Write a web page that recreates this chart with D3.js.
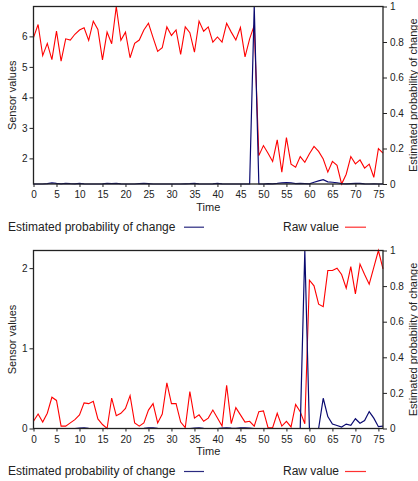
<!DOCTYPE html>
<html>
<head>
<meta charset="utf-8">
<script src="https://cdn.jsdelivr.net/npm/d3@7/dist/d3.min.js"></script>
<style>
  body { margin: 0; background: #fff; }
  svg text { font-family: "Liberation Sans", Arial, sans-serif; fill: #222; }
</style>
</head>
<body>
<div id="container"></div>
<script>
/* CONSTANTS AND GLOBALS */
const width = 418,
  height = 481,
  plotLeft = 33.5,
  plotRight = 383

const panels = [
  { top: 6.5, bottom: 184, timeY: 207, legendY: 226.7 },
  { top: 250.5, bottom: 428.5, timeY: 451, legendY: 471 }
]

/* DATA */
const timeTicks = [0, 5, 10, 15, 20, 25, 30, 35, 40, 45, 50, 55, 60, 65, 70, 75]
const timeMax = 76
const probTicks = [0, 0.2, 0.4, 0.6, 0.8, 1]
const rawTicksTop = [2, 3, 4, 5, 6]
const rawTicksBottom = [0, 1, 2]
const legendLabels = ["Estimated probability of change", "Raw value"]

// first run: change near t=48
const rawTop = [5.96, 6.39, 5.37, 5.77, 5.24, 6.17, 5.19, 5.92, 5.88, 6.07,
  6.21, 6.28, 5.87, 6.50, 6.23, 5.23, 6.14, 5.76, 6.98, 5.87,
  6.14, 5.30, 5.77, 5.88, 6.21, 6.43, 5.96, 5.51, 5.63, 6.31,
  6.03, 6.21, 5.41, 6.31, 6.12, 5.48, 6.50, 6.17, 6.31, 5.81,
  5.98, 5.81, 6.43, 6.14, 5.88, 6.29, 5.33, 5.92, 6.36, 2.09,
  2.42, 2.17, 1.90, 2.61, 1.55, 2.68, 1.81, 1.71, 2.06, 1.87,
  2.15, 2.39, 2.23, 1.98, 1.55, 1.90, 1.77, 1.16, 1.48, 2.06,
  1.82, 1.95, 1.68, 1.81, 1.38, 2.32, 2.17]
const probTop = [0, 0, 0, 0.002, 0.006, 0.003, 0.001, 0.004, 0.002, 0.001,
  0.003, 0.001, 0, 0, 0, 0.001, 0.003, 0.002, 0.003, 0.001,
  0, 0, 0, 0.002, 0.004, 0.002, 0, 0, 0, 0,
  0, 0, 0, 0.001, 0.002, 0.004, 0.001, 0, 0, 0.001,
  0.003, 0.001, 0, 0, 0, 0, 0, 0, 1, 0,
  0, 0.002, 0.001, 0.003, 0.006, 0.008, 0.006, 0.002, 0.003, 0.002,
  0.001, 0.01, 0.018, 0.024, 0.012, 0.01, 0.007, 0.002, 0.001, 0.002,
  0.003, 0.003, 0.001, 0, 0.001, 0, 0]

// second run: change near t=59
const rawBottom = [0.09, 0.18, 0.08, 0.19, 0.39, 0.35, 0.03, 0.03, 0.07, 0.11,
  0.17, 0.32, 0.31, 0.34, 0.12, 0.05, 0.0, 0.38, 0.16, 0.19,
  0.25, 0.41, 0.07, 0.03, 0.07, 0.23, 0.31, 0.07, 0.18, 0.57,
  0.31, 0.31, 0.08, 0.01, 0.46, 0.13, 0.17, 0.09, 0.13, 0.23,
  0.13, 0.03, 0.54, 0.06, 0.26, 0.17, 0.08, 0.09, 0.03, 0.21,
  0.22, 0.01, 0.01, 0.19, 0.03, 0.09, 0.02, 0.30, 0.21, 0.06,
  1.85, 1.78, 1.55, 1.52, 1.97, 1.97, 2.00, 1.92, 1.75, 2.02,
  1.68, 2.05, 1.92, 1.80, 2.01, 2.22, 1.99]
const probBottom = [0, 0, 0, 0, 0, 0, 0, 0, 0, 0,
  0.002, 0.004, 0.001, 0, 0, 0, 0, 0, 0, 0,
  0, 0, 0, 0, 0.001, 0.003, 0.004, 0.001, 0, 0,
  0, 0, 0, 0, 0, 0.002, 0.004, 0.001, 0, 0,
  0, 0.002, 0.004, 0.002, 0.001, 0.003, 0.004, 0.002, 0, 0,
  0, 0, 0, 0, 0, 0, 0, 0, 0, 1,
  0, 0, 0, 0.17, 0.067, 0.025, 0.017, 0.008, 0.025, 0.018,
  0.055, 0.03, 0.045, 0.095, 0.058, 0.01, 0.013]

// CREATE SVG ELEMENT
const svg = d3.select("#container")
  .append("svg")
  .attr("width", width)
  .attr("height", height)

// + SCALES (shared x)
const xScale = d3.scaleLinear()
  .domain([0, timeMax])
  .range([plotLeft, plotRight])

function drawPanel(box, raw, prob, rawTicks, rawDomain) {
  const yRaw = d3.scaleLinear()
    .domain(rawDomain)
    .range([box.bottom, box.top])

  const yProb = d3.scaleLinear()
    .domain([0, 1])
    .range([box.bottom, box.top])

  // AXES
  const xAxis = svg.append("g")
    .attr("transform", `translate(0,${box.bottom})`)
    .call(d3.axisBottom(xScale).tickValues(timeTicks).tickSize(3).tickPadding(4))

  const yAxis = svg.append("g")
    .attr("transform", `translate(${plotLeft},0)`)
    .call(d3.axisLeft(yRaw).tickValues(rawTicks).tickFormat(d3.format("~g")).tickSize(4).tickPadding(2))

  const y2Axis = svg.append("g")
    .attr("transform", `translate(${plotRight},0)`)
    .call(d3.axisRight(yProb).tickValues(probTicks).tickFormat(d3.format("~g")).tickSize(4).tickPadding(3))

  ;[xAxis, yAxis, y2Axis].forEach(g => {
    g.attr("font-family", "Liberation Sans, Arial, sans-serif")
      .attr("font-size", 10)
      .attr("color", "#222")
    g.select(".domain").remove()
  })

  // LINE GENERATORS
  const rawLine = d3.line()
    .x((d, i) => xScale(i))
    .y(d => yRaw(d))

  const probLine = d3.line()
    .x((d, i) => xScale(i))
    .y(d => yProb(d))

  svg.append("path")
    .datum(raw)
    .attr("fill", "none")
    .attr("stroke", "#ff0000")
    .attr("stroke-width", 1.1)
    .attr("d", rawLine)

  svg.append("path")
    .datum(prob)
    .attr("fill", "none")
    .attr("stroke", "#0a0a70")
    .attr("stroke-width", 1.2)
    .attr("d", probLine)

  // frame
  svg.append("rect")
    .attr("x", plotLeft)
    .attr("y", box.top)
    .attr("width", plotRight - plotLeft)
    .attr("height", box.bottom - box.top)
    .attr("fill", "none")
    .attr("stroke", "#222")
    .attr("stroke-width", 1.3)

  // TITLES
  const midY = (box.top + box.bottom) / 2
  svg.append("text")
    .attr("transform", `translate(12.5,${midY}) rotate(-90)`)
    .attr("text-anchor", "middle")
    .attr("dy", "0.35em")
    .attr("font-size", 11)
    .text("Sensor values")

  svg.append("text")
    .attr("transform", `translate(413,${midY}) rotate(-90)`)
    .attr("text-anchor", "middle")
    .attr("dy", "0.35em")
    .attr("font-size", 11)
    .text("Estimated probability of change")

  svg.append("text")
    .attr("x", (plotLeft + plotRight) / 2)
    .attr("y", box.timeY)
    .attr("text-anchor", "middle")
    .attr("dy", "0.35em")
    .attr("font-size", 11)
    .text("Time")

  // LEGEND
  svg.append("text")
    .attr("x", 8)
    .attr("y", box.legendY)
    .attr("dy", "0.35em")
    .attr("font-size", 12)
    .text(legendLabels[0])
  svg.append("line")
    .attr("x1", 184).attr("x2", 204)
    .attr("y1", box.legendY + 0.5).attr("y2", box.legendY + 0.5)
    .attr("stroke", "#2a2a80")
    .attr("stroke-width", 1.2)

  svg.append("text")
    .attr("x", 283)
    .attr("y", box.legendY)
    .attr("dy", "0.35em")
    .attr("font-size", 12)
    .text(legendLabels[1])
  svg.append("line")
    .attr("x1", 345).attr("x2", 366)
    .attr("y1", box.legendY + 0.5).attr("y2", box.legendY + 0.5)
    .attr("stroke", "#ff3030")
    .attr("stroke-width", 1.2)
}

drawPanel(panels[0], rawTop, probTop, rawTicksTop, d3.extent(rawTop))
drawPanel(panels[1], rawBottom, probBottom, rawTicksBottom, [0, d3.max(rawBottom)])
</script>
</body>
</html>
